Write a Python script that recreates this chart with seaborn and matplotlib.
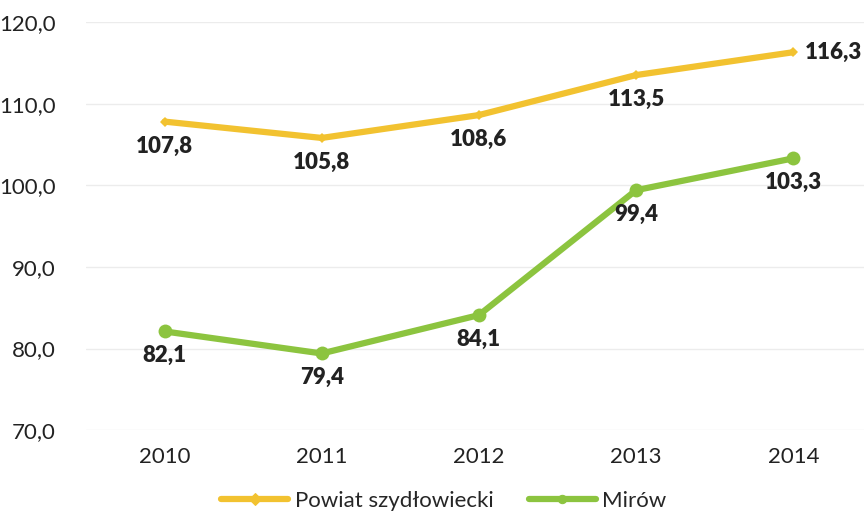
import numpy as np
import pandas as pd
import matplotlib
matplotlib.use("Agg")
import matplotlib.pyplot as plt
import seaborn as sns

# data
years = ["2010", "2011", "2012", "2013", "2014"]
powiat = [107.8, 105.8, 108.6, 113.5, 116.3]
mirow = [82.1, 79.4, 84.1, 99.4, 103.3]
series_names = ["Powiat szydłowiecki", "Mirów"]

df = pd.DataFrame({
    "rok": years * 2,
    "wartosc": powiat + mirow,
    "seria": [series_names[0]] * len(years) + [series_names[1]] * len(years),
})

sns.set_style("white")
plt.rcParams['font.family'] = ['Lato', 'DejaVu Sans']

yellow = "#F2C230"
green = "#8CC43F"
colors = {series_names[0]: yellow, series_names[1]: green}

fig = plt.figure(figsize=(8.64, 5.24), dpi=100)
ax = fig.add_axes([0.0995, 0.179, 0.9005, 0.779])

sns.lineplot(data=df, x="rok", y="wartosc", hue="seria", palette=colors,
             style="seria", markers={series_names[0]: "D", series_names[1]: "o"},
             dashes=False, linewidth=4.5, ax=ax, sort=False)

# marker sizes per line
for line, ms in zip(ax.lines[:2], [5, 10]):
    line.set_markersize(ms)
    line.set_markeredgewidth(0)

ax.set_ylim(70, 120)
ax.set_xlim(-0.5, 4.45)
ax.set_yticks(np.arange(70, 121, 10))
ax.set_yticklabels([f"{v:.1f}".replace(".", ",") for v in np.arange(70, 121, 10)])
ax.grid(axis="y", color="#ececec", linewidth=1)
ax.set_axisbelow(True)
for s in ax.spines.values():
    s.set_visible(False)
ax.tick_params(axis="both", length=0, labelsize=16, colors="#222222")
ax.tick_params(axis="y", pad=22)
ax.tick_params(axis="x", pad=12)
ax.set_xlabel("")
ax.set_ylabel("")

# value labels
lab_kw = dict(textcoords="offset points", fontsize=16, fontweight="heavy", color="#222222")
for i, v in enumerate(powiat):
    if i == len(powiat) - 1:
        ax.annotate(f"{v:.1f}".replace(".", ","), (i, v), xytext=(8, 0),
                    ha="left", va="center", **lab_kw)
    else:
        ax.annotate(f"{v:.1f}".replace(".", ","), (i, v), xytext=(0, -10),
                    ha="center", va="top", **lab_kw)
for i, v in enumerate(mirow):
    ax.annotate(f"{v:.1f}".replace(".", ","), (i, v), xytext=(0, -10),
                ha="center", va="top", **lab_kw)

handles, labels = ax.get_legend_handles_labels()
for h, lab in zip(handles, labels):
    h.set_markeredgecolor(colors[lab])
    h.set_markerfacecolor(colors[lab])
ax.legend(handles, labels, loc="upper center", bbox_to_anchor=(0.46, -0.1),
          ncol=2, frameon=False, fontsize=16, handlelength=3.0,
          columnspacing=1.6, handletextpad=0.3)

fig.savefig("out.png", dpi=100)
